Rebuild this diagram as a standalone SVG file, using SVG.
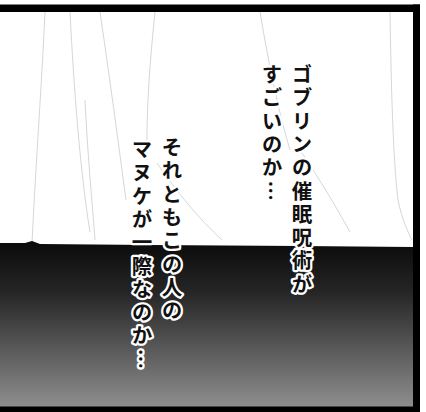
<svg xmlns="http://www.w3.org/2000/svg" width="426" height="412" viewBox="0 0 426 412">
<defs>
<linearGradient id="floor" x1="0" y1="244" x2="0" y2="407" gradientUnits="userSpaceOnUse">
<stop offset="0" stop-color="#0c0c0c"/>
<stop offset="0.3" stop-color="#262626"/>
<stop offset="1" stop-color="#8e8e8e"/>
</linearGradient>
<style>
.fold{fill:none;stroke:#c4c4c4;stroke-width:0.7}
.t{font-family:"Noto Sans CJK JP","Noto Sans CJK SC",sans-serif;font-size:20.5px;font-weight:700;fill:#111;stroke:#fff;stroke-width:4.5px;stroke-linejoin:round;paint-order:stroke;writing-mode:vertical-rl;letter-spacing:2.8px}
</style>
</defs>
<rect x="0" y="0" width="426" height="412" fill="#fff"/>
<g id="curtain">
<path class="fold" d="M45,12 C42,80 36,160 32,243"/>
<path class="fold" d="M70,12 C74,90 80,170 90,232"/>
<path class="fold" d="M100,12 C110,80 118,140 126,200"/>
<path class="fold" d="M155,12 C150,60 146,110 147,160"/>
<path class="fold" d="M157,163 C175,190 200,220 222,240"/>
<path class="fold" d="M260,12 C268,60 278,110 290,150"/>
<path class="fold" d="M300,150 C320,180 335,205 350,232"/>
<path class="fold" d="M390,12 C391,80 393,160 398,200 C402,220 408,232 412,240"/>
<path class="fold" d="M85,100 C88,160 92,200 95,240"/>
</g>
<path id="floor-area" d="M0,243 L25,243 L32,241 L40,244 L150,245 L300,246 L413,247 L413,407 L0,407 Z" fill="url(#floor)"/>
<g id="frame">
<rect x="0" y="4.5" width="420" height="7.5" fill="#000"/>
<rect x="413" y="4.5" width="7" height="407.5" fill="#000"/>
<rect x="0" y="406.5" width="420" height="5.5" fill="#000"/>
</g>
<g id="text">
<text class="t" x="302" y="64">ゴブリンの催眠呪術が</text>
<text class="t" x="272" y="64">すごいのか…</text>
<text class="t" x="172" y="137">それともこの人の</text>
<text class="t" x="142" y="139">マヌケが一際なのか…</text>
</g>
</svg>
